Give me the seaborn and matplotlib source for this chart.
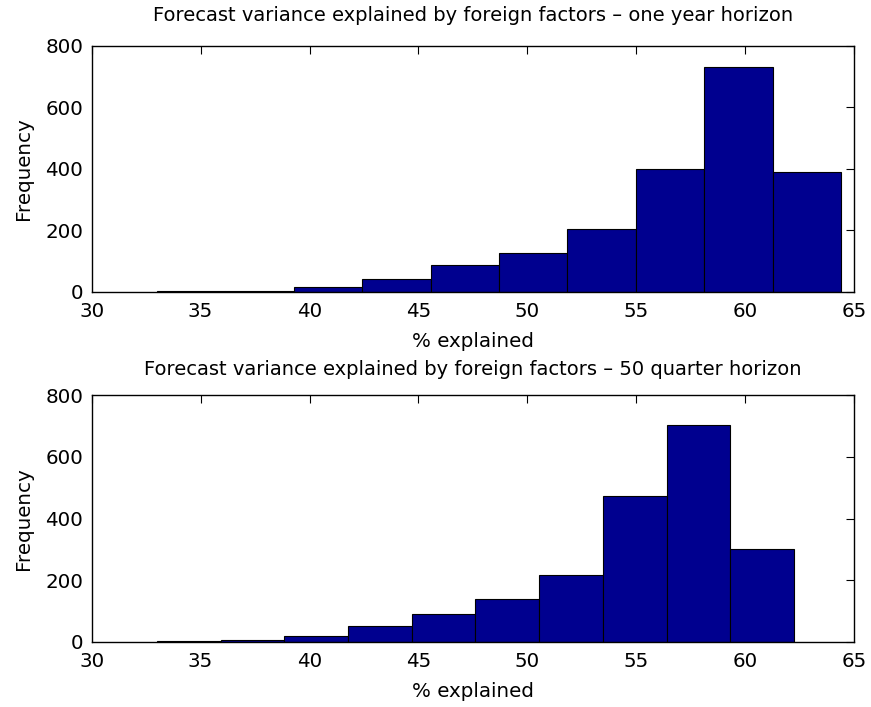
"""Histogramas da variância de previsão explicada por fatores externos."""

import matplotlib

matplotlib.use("Agg")
import matplotlib.pyplot as plt
import numpy as np
import pandas as pd
import seaborn as sns

sns.set_style("white")
plt.rcParams["font.family"] = ["DejaVu Sans"]
plt.rcParams["text.color"] = "black"
plt.rcParams["axes.labelcolor"] = "black"

# Contagens por classe (10 classes iguais)
counts_1y = [2, 3, 17, 42, 88, 127, 206, 398, 730, 390]
range_1y = (33.0, 64.4)
counts_50q = [2, 5, 18, 50, 90, 138, 217, 474, 705, 301]
range_50q = (33.0, 62.24)
n_bins = 10

titles = [
    "Forecast variance explained by foreign factors \u2013 one year horizon",
    "Forecast variance explained by foreign factors \u2013 50 quarter horizon",
]
title_pads = [18, 15]
x_ticks = [30, 35, 40, 45, 50, 55, 60, 65]
y_ticks = [0, 200, 400, 600, 800]

BAR_COLOR = "#00008F"
FS = 14.3


def _hist_frame(counts, rng):
    edges = np.linspace(rng[0], rng[1], n_bins + 1)
    centers = (edges[:-1] + edges[1:]) / 2
    return pd.DataFrame({"x": centers, "n": counts})


fig, axes = plt.subplots(2, 1, figsize=(8.71, 7.07), dpi=100)
fig.subplots_adjust(
    left=0.1053, right=0.9805, top=0.9354, bottom=0.0924, hspace=0.42
)

panels = [(counts_1y, range_1y), (counts_50q, range_50q)]
for ax, (counts, rng), title, pad in zip(axes, panels, titles, title_pads):
    df = _hist_frame(counts, rng)
    sns.histplot(
        data=df,
        x="x",
        weights="n",
        bins=n_bins,
        binrange=rng,
        color=BAR_COLOR,
        alpha=1,
        edgecolor="black",
        linewidth=0.8,
        ax=ax,
    )
    ax.set_xlim(30, 65)
    ax.set_ylim(0, 800)
    ax.set_xticks(x_ticks)
    ax.set_yticks(y_ticks)
    ax.tick_params(
        direction="in",
        top=True,
        right=True,
        length=5.5,
        width=0.8,
        pad=6,
        labelsize=FS,
        colors="black",
    )
    ax.tick_params(axis="x", pad=7.5)
    for sp in ax.spines.values():
        sp.set_visible(True)
        sp.set_color("black")
        sp.set_linewidth(1.0)
    ax.set_title(title, fontsize=14.0, pad=pad)
    ax.set_xlabel("% explained", fontsize=FS, labelpad=7.5)
    ax.set_ylabel("Frequency", fontsize=FS, labelpad=9)

fig.savefig("out.png", dpi=100)
